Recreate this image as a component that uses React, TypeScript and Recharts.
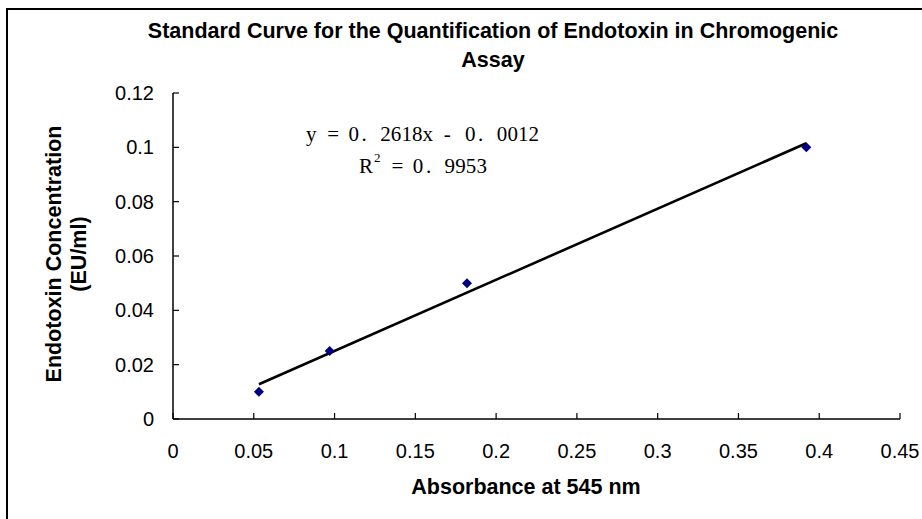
import { ScatterChart, Scatter, XAxis, YAxis } from 'recharts'

// standard points
const absorbance = [0.0532, 0.097, 0.182, 0.392]
const concentration = [0.01, 0.025, 0.05, 0.1]

// linear trendline end points (as drawn)
const trendX = [0.0532, 0.392]
const trendY = [0.0128, 0.1015]

const xTicks = [0, 0.05, 0.1, 0.15, 0.2, 0.25, 0.3, 0.35, 0.4, 0.45]
const yTicks = [0, 0.02, 0.04, 0.06, 0.08, 0.1, 0.12]

const equation = 'y = 0. 2618x - 0. 0012'
const rSquared = ' = 0. 9953'

const points = absorbance.map((x, i) => ({ x, y: concentration[i] }))
const trend = trendX.map((x, i) => ({ x, y: trendY[i] }))

const FONT = '"Liberation Sans", Arial, sans-serif'
const SERIF = '"Liberation Serif", "DejaVu Serif", serif'
const CELL = 10.6 // half-width cell of the equation font

// lay out a string on a fixed cell grid, skipping the spaces
const cells = (s: string, x0: number) =>
  s
    .split('')
    .map((ch, i) => ({ ch, x: x0 + i * CELL + (ch === '.' ? 2.5 : 0) }))
    .filter((c) => c.ch !== ' ')

const XTick = (props: any) => {
  const { x, y, payload } = props
  return (
    <text x={x} y={y + 45} textAnchor="middle" fontFamily={FONT} fontSize={20} fill="#000">
      {payload.value}
    </text>
  )
}

const YTick = (props: any) => {
  const { x, y, payload } = props
  return (
    <text x={x - 25} y={y + 7} textAnchor="end" fontFamily={FONT} fontSize={20} fill="#000">
      {payload.value}
    </text>
  )
}

const Diamond = (props: any) => {
  const { cx, cy } = props
  if (cx == null || cy == null) return null
  const r = 5
  return (
    <path
      d={`M${cx},${cy - r} L${cx + r},${cy} L${cx},${cy + r} L${cx - r},${cy} Z`}
      fill="#000080"
    />
  )
}

const Nothing = () => null

export default function App() {
  const eq = cells(equation, 306)
  const rs = cells(rSquared, 381)
  return (
    <div style={{ position: 'absolute', left: 0, top: 0, width: 922, height: 519, background: '#fff', overflow: 'hidden' }}>
      <div
        style={{
          position: 'absolute',
          left: 6,
          top: 8,
          width: 940,
          height: 540,
          border: '2px solid #000',
        }}
      />
      <div style={{ position: 'absolute', left: 0, top: 0 }}>
        <ScatterChart width={922} height={519} margin={{ top: 93, right: 22, bottom: 0, left: 0 }}>
          <XAxis
            type="number"
            dataKey="x"
            domain={[0, 0.45]}
            ticks={xTicks}
            interval={0}
            height={100}
            tick={<XTick />}
            tickSize={-6}
            tickMargin={0}
            axisLine={{ stroke: '#000', strokeWidth: 1.5 }}
            tickLine={{ stroke: '#000', strokeWidth: 1.2 }}
            allowDataOverflow
          />
          <YAxis
            type="number"
            dataKey="y"
            domain={[0, 0.12]}
            ticks={yTicks}
            interval={0}
            width={173}
            tick={<YTick />}
            tickSize={-6}
            tickMargin={0}
            axisLine={{ stroke: '#000', strokeWidth: 1.5 }}
            tickLine={{ stroke: '#000', strokeWidth: 1.2 }}
            allowDataOverflow
          />
          <Scatter
            data={trend}
            line={{ stroke: '#000', strokeWidth: 2.6 }}
            shape={<Nothing />}
            isAnimationActive={false}
          />
          <Scatter data={points} shape={<Diamond />} isAnimationActive={false} />
        </ScatterChart>
      </div>
      <svg width={922} height={519} style={{ position: 'absolute', left: 0, top: 0, pointerEvents: 'none' }}>
        <g fontFamily={FONT} fontWeight="bold" fill="#000">
          <text x={493} y={38} textAnchor="middle" fontSize={21.5}>
            Standard Curve for the Quantification of Endotoxin in Chromogenic
          </text>
          <text x={493} y={67} textAnchor="middle" fontSize={21.5}>
            Assay
          </text>
          <text x={526} y={494} textAnchor="middle" fontSize={21.5}>
            Absorbance at 545 nm
          </text>
          <text transform="translate(61,254) rotate(-90)" textAnchor="middle" fontSize={21.5}>
            Endotoxin Concentration
          </text>
          <text transform="translate(86,254) rotate(-90)" textAnchor="middle" fontSize={21.5}>
            (EU/ml)
          </text>
        </g>
        <g fontFamily={SERIF} fontSize={21} fill="#000">
          <text x={eq.map((c) => c.x).join(' ')} y={141}>
            {eq.map((c) => c.ch).join('')}
          </text>
          <text x={359} y={173}>R</text>
          <text x={374} y={162} fontSize={13}>2</text>
          <text x={rs.map((c) => c.x).join(' ')} y={173}>
            {rs.map((c) => c.ch).join('')}
          </text>
        </g>
      </svg>
    </div>
  )
}
